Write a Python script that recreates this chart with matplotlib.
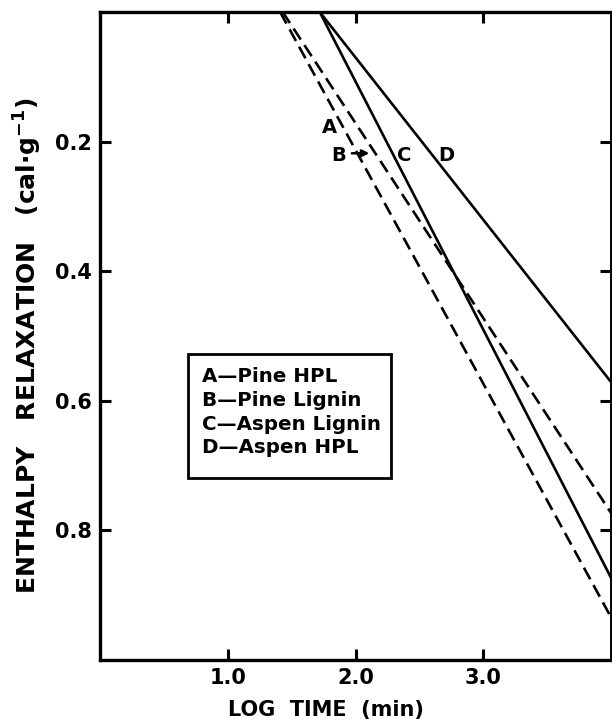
import matplotlib.pyplot as plt
from matplotlib.patches import Rectangle

plt.rcParams['font.family'] = ['DejaVu Sans']
plt.rcParams['font.weight'] = 'bold'
plt.rcParams['mathtext.default'] = 'bf'

# line end points (log time, enthalpy relaxation)
a_x = [1.41, 4.0]
a_y = [0.0, 0.934]
b_x = [1.43, 4.0]
b_y = [0.0, 0.773]
c_x = [1.72, 4.0]
c_y = [0.0, 0.873]
d_x = [1.72, 4.0]
d_y = [0.0, 0.571]

xticks = [1.0, 2.0, 3.0]
yticks = [0.2, 0.4, 0.6, 0.8]
legend_lines = ['A\u2014Pine HPL', 'B\u2014Pine Lignin', 'C\u2014Aspen Lignin', 'D\u2014Aspen HPL']

fig = plt.figure(figsize=(6.12, 7.27), dpi=100)
ax = fig.add_axes([100/612, 1 - 660/727, 511/612, 648/727])

dash = (0, (5, 2.5))
ax.plot(a_x, a_y, color='black', lw=1.9, linestyle=dash)
ax.plot(b_x, b_y, color='black', lw=1.9, linestyle=dash)
ax.plot(c_x, c_y, color='black', lw=1.9)
ax.plot(d_x, d_y, color='black', lw=1.9)

ax.set_xlim(0, 4.0)
ax.set_ylim(1.0, 0.0)
ax.set_xticks(xticks)
ax.set_xticklabels([f'{v:.1f}' for v in xticks])
ax.set_yticks(yticks)
ax.set_yticklabels([f'{v:.1f}' for v in yticks])
ax.tick_params(direction='in', length=8, width=2.2, top=True, right=True,
               labelsize=15, pad=6)
for s in ax.spines.values():
    s.set_linewidth(2.4)
ax.spines['right'].set_linewidth(1.4)

# curve labels
ax.text(1.80, 0.179, 'A', fontsize=14, ha='center', va='center')
ax.text(1.87, 0.221, 'B', fontsize=14, ha='center', va='center')
ax.text(2.38, 0.221, 'C', fontsize=14, ha='center', va='center')
ax.text(2.71, 0.221, 'D', fontsize=14, ha='center', va='center')
ax.annotate('', xy=(2.13, 0.218), xytext=(1.95, 0.218),
            arrowprops=dict(arrowstyle='-|>', color='black', lw=1.8,
                            mutation_scale=10))

# legend box
ax.add_patch(Rectangle((0.6875, 0.528), 1.594, 0.191, facecolor='white',
                       edgecolor='black', linewidth=2, zorder=3))
for i, line in enumerate(legend_lines):
    ax.text(0.80, 0.563 + i * 0.0365, line, fontsize=14.3, ha='left',
            va='center', zorder=4)

fig.text(28/612, 1 - 346/727, 'ENTHALPY   RELAXATION   (cal\u00b7g$^{-1}$)',
         rotation=90, ha='center', va='center', fontsize=18)
fig.text(326/612, 1 - 710/727, 'LOG  TIME  (min)', ha='center', va='center',
         fontsize=15)

fig.savefig('out.png', dpi=100)
